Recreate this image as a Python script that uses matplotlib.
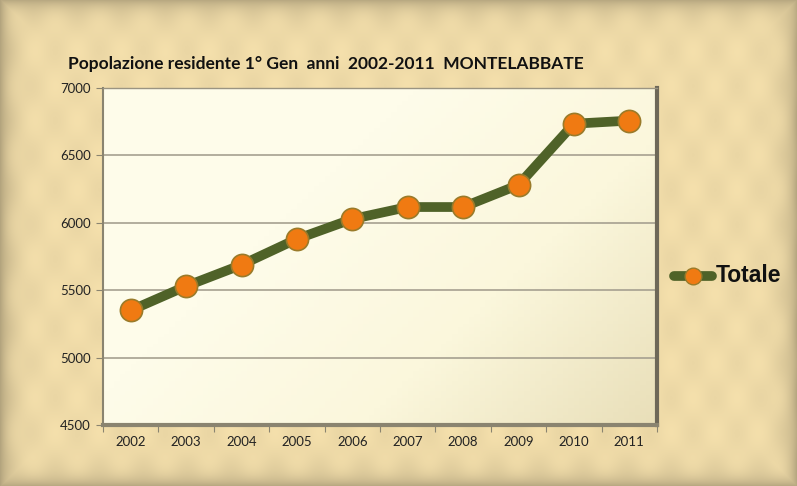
import numpy as np
import matplotlib.pyplot as plt
from matplotlib.colors import LinearSegmentedColormap

years = ['2002', '2003', '2004', '2005', '2006', '2007', '2008', '2009', '2010', '2011']
totale = [5350, 5530, 5688, 5880, 6028, 6117, 6117, 6281, 6735, 6758]
y_ticks = [4500, 5000, 5500, 6000, 6500, 7000]

plt.rcParams['font.family'] = ['Lato', 'DejaVu Sans']

fig = plt.figure(figsize=(7.97, 4.86), dpi=100)
fig.patch.set_facecolor('#EDD9A3')

# parchment-ish background with a darker frame
bg = fig.add_axes([0, 0, 1, 1], zorder=-10)
bg.set_axis_off()
yy, xx = np.mgrid[0:486, 0:797]
d = np.minimum.reduce([xx, 797 - xx, yy, 486 - yy]).astype(float)
shade = 1 - 0.25 * np.exp(-d / 10.0)
texture = (np.sin(xx / 7.0) * np.sin(yy / 11.0) * 0.02)
base = np.array([0.94, 0.86, 0.66])
img = base[None, None, :] * (shade + texture)[..., None]
bg.imshow(np.clip(img, 0, 1), extent=[0, 1, 0, 1], aspect='auto')
bg.set_xlim(0, 1)
bg.set_ylim(0, 1)

ax = fig.add_axes([103 / 797, 1 - 425 / 486, (657 - 103) / 797, (425 - 88) / 486])
x = np.arange(len(years))

# gradient panel
cmap = LinearSegmentedColormap.from_list('panel', ['#FEFCEA', '#FBF7DC', '#E9DFB9'])
gy, gx = np.mgrid[0:1:100j, 0:1:100j]
grad = np.clip((gx * 0.8 + (1 - gy) * 0.5) - 0.45, 0, 1)
ax.imshow(grad, extent=[-0.5, 9.5, 7000, 4500], cmap=cmap, aspect='auto', zorder=0)

for v in y_ticks[1:-1]:
    ax.axhline(v, color='#A6A090', lw=1.2, zorder=1)

ax.plot(x, totale, '-', color='#4F6228', lw=7, zorder=3, solid_capstyle='round')
ax.plot(x, totale, 'o', color='#F07A12', ms=16, mec='#9A7B2A', mew=1.2, zorder=4)

ax.set_xlim(-0.5, 9.5)
ax.set_ylim(4500, 7000)
ax.set_yticks(y_ticks)
ax.set_yticklabels([str(v) for v in y_ticks], fontsize=9.5, color='#222222')
ax.set_xticks(np.arange(-0.5, 10, 1), minor=False)
ax.set_xticklabels([])
ax.set_xticks(x, minor=True)
ax.set_xticklabels(years, minor=True, fontsize=9.5, color='#222222')
ax.tick_params(axis='x', which='minor', length=0, pad=8)
ax.tick_params(axis='x', which='major', length=5, color='#8A8470', direction='out')
ax.tick_params(axis='y', length=5, color='#8A8470', pad=4)
for s in ['left', 'bottom']:
    ax.spines[s].set_color('#8A8470')
    ax.spines[s].set_linewidth(1.5)
ax.spines['bottom'].set_linewidth(3)
ax.spines['right'].set_color('#6E6858')
ax.spines['right'].set_linewidth(3)
ax.spines['top'].set_color('#9A9482')
ax.spines['top'].set_linewidth(1.0)

fig.text(68 / 797, 1 - 64 / 486, 'Popolazione residente 1° Gen  anni  2002-2011  MONTELABBATE',
         fontsize=12.5, fontweight='bold', color='#111111', va='center')

# legend
lx = [674 / 797, 712 / 797]
ly = 1 - 276 / 486
fig.add_artist(plt.Line2D(lx, [ly, ly], color='#4F6228', lw=7, solid_capstyle='round'))
fig.add_artist(plt.Line2D([np.mean(lx)], [ly], marker='o', color='#F07A12', ms=12,
                          mec='#9A7B2A', mew=1.0))
fig.text(716 / 797, ly, 'Totale', fontsize=16.5, fontweight='bold', va='center',
         family=['Liberation Sans', 'DejaVu Sans'], color='#111111')

fig.savefig('out.png', dpi=100, facecolor=fig.get_facecolor())
